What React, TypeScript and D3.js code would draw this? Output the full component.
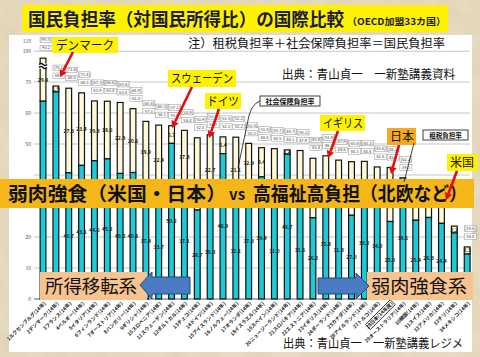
import React from 'react';
import * as d3 from 'd3';

const countries = [
  'ルクセンブルグ', 'デンマーク', 'フランス', 'ベルギー', 'イタリア', 'フィンランド', 'オーストリア', 'ハンガリー',
  'ギリシャ', 'スロベニア', 'スウェーデン', 'ポルトガル', 'チェコ', 'ドイツ', 'アイスランド', 'ノルウェー',
  'オランダ', 'イスラエル', 'スペイン', 'ニュージーランド', 'スロバキア', 'エストニア', 'イギリス', 'ポーランド',
  'カナダ', 'アイルランド', 'トルコ', '日本', 'オーストラリア', '韓国', 'スイス', 'アメリカ', 'チリ', 'メキシコ',
];
const taxRate = [
  63.8, 66.8, 40.7, 43.1, 44.6, 45.2, 40.5, 40.8, 37.4, 33.7, 50.2, 37.1, 28.7, 30.3, 46.9, 31.1,
  37.3, 39.4, 31.0, 46.7, 31.6, 26.2, 35.8, 31.8, 27.0, 36.2, 34.0, 25.0, 39.1, 25.4, 26.3, 24.4, 21.3, 14.5,
];
const socialRate = [
  29.4, 1.9, 27.3, 23.4, 19.3, 18.6, 22.9, 20.6, 19.9, 22.4, 5.7, 17.3, 23.3, 22.7, 5.4, 21.1,
  12.9, 9.4, 17.5, 1.4, 16.3, 19.2, 10.4, 13.0, 17.3, 8.2, 8.6, 17.4, 0.0, 8.0, 7.0, 8.3, 2.2, 2.3,
];
const potentialRate = [
  95.5, 70.1, 71.6, 71.4, 67.3, 66.6, 65.8, 64.9, 60.8, 60.3, 57.1, 58.9, 53.9, 52.9, 53.5, 52.2,
  52.5, 51.0, 54.7, 48.7, 50.3, 45.9, 51.4, 47.9, 45.6, 48.3, 43.6, 48.2, 42.2, 34.5, 33.9, 37.8, 23.5, 19.6,
];
const yTicks = [0, 10, 20, 30, 40, 50, 60, 70, 100, 110];

const W = 480;
const H = 357;

// regions covered by overlays (labels there are hidden in the original)
const hidden = [
  { x0: 0, x1: 480, y0: 172, y1: 214 },
  { x0: 36, x1: 194, y0: 266, y1: 304 },
  { x0: 314, x1: 480, y0: 266, y1: 304 },
];
const isHidden = (px: number, py: number) => hidden.some((r) => px >= r.x0 && px <= r.x1 && py >= r.y0 && py <= r.y1);

function Arrow({ x1, y1, x2, y2 }: { x1: number; y1: number; x2: number; y2: number }) {
  const a = Math.atan2(y2 - y1, x2 - x1);
  const L = 7, Wd = 4;
  const bx = x2 - L * Math.cos(a), by = y2 - L * Math.sin(a);
  const px = -Math.sin(a) * Wd, py = Math.cos(a) * Wd;
  return (
    <g>
      <line x1={x1} y1={y1} x2={bx} y2={by} stroke="#e01010" strokeWidth={2.6} />
      <path d={`M${x2},${y2} L${bx + px},${by + py} L${bx - px},${by - py} Z`} fill="#e01010" />
    </g>
  );
}

export default function App() {
  const x = d3.scaleBand<string>().domain(countries).range([36.6, 473.6]).paddingInner(0.55).paddingOuter(0.275);
  const y = d3.scaleLinear().domain([0, 70, 110]).range([299, 82, 41]);
  const bw = x.bandwidth();
  const cx = (c: string) => (x(c) as number) + bw / 2;
  const jp = '"Noto Sans CJK JP", "Noto Sans", sans-serif';

  return (
    <svg width={W} height={H} style={{ position: 'absolute', left: 0, top: 0 }} fontFamily={jp}>
      <defs>
        <filter id="paper" x="0" y="0" width="100%" height="100%">
          <feTurbulence type="fractalNoise" baseFrequency="0.04" numOctaves={4} seed={3} />
          <feColorMatrix type="matrix" values="0 0 0 0 0.55  0 0 0 0 0.45  0 0 0 0 0.3  0 0 0 0.5 0" />
          <feComposite in2="SourceGraphic" operator="in" />
        </filter>
      </defs>
      <rect x={0} y={0} width={W} height={H} fill="#eadfc4" />
      <rect x={0} y={0} width={W} height={H} fill="#eadfc4" filter="url(#paper)" opacity={0.6} />
      {/* white panel */}
      <rect x={9} y={35} width={463} height={317} fill="#ffffff" />

      {/* title */}
      <rect x={22} y={5} width={426} height={27} fill="#fff200" />
      <text x={28} y={26} fontSize={18} fontWeight="bold" fill="#1c1c3c" textLength={316} lengthAdjust="spacingAndGlyphs">
        国民負担率（対国民所得比）の国際比較
      </text>
      <text x={347} y={25} fontSize={9.5} fontWeight="bold" fill="#1c1c3c" textLength={99} lengthAdjust="spacingAndGlyphs">
        （OECD加盟33カ国）
      </text>

      {/* notes */}
      <text x={188} y={48} fontSize={12} fill="#111" textLength={257} lengthAdjust="spacingAndGlyphs">
        注）租税負担率＋社会保障負担率＝国民負担率
      </text>
      <text x={282} y={79} fontSize={12} fill="#111" textLength={173} lengthAdjust="spacingAndGlyphs">
        出典：青山貞一　一新塾講義資料
      </text>

      {/* gridlines */}
      {yTicks.filter((t) => t > 0 && t < 110).map((t) => (
        <line key={t} x1={34} x2={470} y1={y(t)} y2={y(t)} stroke="#b8b8b8" strokeWidth={0.8} />
      ))}
      {yTicks.filter((t) => !isHidden(28, y(t))).map((t) => (
        <text key={'l' + t} x={31} y={y(t) + 2} fontSize={5} fill="#555" textAnchor="end">
          {t}
        </text>
      ))}

      {/* bars */}
      {countries.map((c, i) => {
        const t = taxRate[i];
        const s = socialRate[i];
        const tot = t + s;
        const bx = cx(c) - bw / 2;
        const sy = (y(t) + y(tot)) / 2 + 2;
        const ty = (y(0) + y(t)) / 2 + 2;
        const topHidden = isHidden(cx(c) + 3, y(tot) - 21);
        const lowHidden = isHidden(cx(c) + 3, y(tot) - 13);
        return (
          <g key={c}>
            <rect x={bx} y={y(tot)} width={bw} height={y(t) - y(tot)} fill="#fdf9d6" stroke="#111" strokeWidth={1.2} />
            <rect x={bx} y={y(t)} width={bw} height={y(0) - y(t)} fill="#1ccbd8" stroke="#111" strokeWidth={1.2} />
            {s >= 1 && !isHidden(cx(c), sy) && (
              <text x={cx(c)} y={sy} fontSize={5} fontWeight="bold" fill="#222" textAnchor="middle">
                {s.toFixed(1)}
              </text>
            )}
            {!isHidden(cx(c), ty) && (
              <text x={cx(c)} y={ty} fontSize={5} fontWeight="bold" fill="#222" textAnchor="middle">
                {t.toFixed(1)}
              </text>
            )}
            <g fontSize={4.2} fill="#444" textAnchor="middle">
              {!topHidden && (
                <g>
                  <rect x={cx(c) - 3} y={y(tot) - 21} width={12} height={5.5} fill="#fff" stroke="#777" strokeWidth={0.4} />
                  <text x={cx(c) + 3} y={y(tot) - 16.8}>[{potentialRate[i].toFixed(1)}]</text>
                </g>
              )}
              {!lowHidden && (
                <g>
                  <rect x={cx(c) - 3} y={y(tot) - 13} width={12} height={5.5} fill="#fff" stroke="#777" strokeWidth={0.4} />
                  <text x={cx(c) + 3} y={y(tot) - 8.8}>{tot.toFixed(1)}</text>
                </g>
              )}
            </g>
          </g>
        );
      })}
      {/* axis break on first bar */}
      <g>
        <rect x={cx(countries[0]) - bw / 2 - 1} y={y(88)} width={bw + 2} height={5} fill="#fff" />
        <path
          d={`M${cx(countries[0]) - 4},${y(88) + 1} q2,-2 4,0 t4,0 M${cx(countries[0]) - 4},${y(88) + 4} q2,-2 4,0 t4,0`}
          fill="none" stroke="#111" strokeWidth={1.3}
        />
      </g>
      <line x1={34} x2={472} y1={y(0)} y2={y(0)} stroke="#333" strokeWidth={0.8} />

      {/* x labels */}
      {countries.map((c, i) => {
        const label = `${i + 1}${c}(14年${c === '日本' ? '度' : ''})`;
        return (
          <g key={'x' + c} transform={`translate(${cx(c) + 3},${y(0) + 5}) rotate(-45)`}>
            {c === '日本' && <rect x={-34} y={-5} width={35} height={7} fill="none" stroke="#111" strokeWidth={0.8} />}
            <text x={0} y={0} fontSize={5} fontWeight="bold" fill="#222" textAnchor="end">
              {label}
            </text>
          </g>
        );
      })}

      {/* banner */}
      <rect x={0} y={179} width={474} height={29} fill="#f4b619" />
      <text x={8} y={201} fontSize={19} fontWeight="bold" fill="#111" textLength={218} lengthAdjust="spacingAndGlyphs">
        弱肉強食（米国・日本）
      </text>
      <text x={229} y={200} fontSize={15} fontWeight="bold" fill="#111">vs</text>
      <text x={253} y={201} fontSize={19} fontWeight="bold" fill="#111" textLength={214} lengthAdjust="spacingAndGlyphs">
        高福祉高負担（北欧など）
      </text>

      {/* lower boxes */}
      <rect x={40} y={272} width={107} height={28} fill="#f7c38f" />
      <text x={45} y={293} fontSize={18} fill="#111" textLength={92} lengthAdjust="spacingAndGlyphs">所得移転系</text>
      <path d="M140,285 L152,272 L152,277 L190,277 L190,294 L152,294 L152,299 Z" fill="#4a7cc4" stroke="#24487e" strokeWidth={1} />
      <rect x={367} y={272} width={106} height={28} fill="#f7c38f" />
      <text x={371} y={293} fontSize={18} fill="#111" textLength={96} lengthAdjust="spacingAndGlyphs">弱肉強食系</text>
      <path d="M318,278 L356,278 L356,273 L369,286 L356,299 L356,294 L318,294 Z" fill="#4a7cc4" stroke="#24487e" strokeWidth={1} />

      {/* callouts */}
      <rect x={52} y={37} width={66} height={16} fill="#fff200" />
      <text x={56} y={50} fontSize={12} fill="#111" textLength={58} lengthAdjust="spacingAndGlyphs">デンマーク</text>
      <Arrow x1={73} y1={52} x2={60} y2={77} />

      <rect x={168} y={70} width={68} height={17} fill="#fff200" />
      <text x={171} y={83} fontSize={12} fill="#111" textLength={62} lengthAdjust="spacingAndGlyphs">スウェーデン</text>
      <Arrow x1={192} y1={87} x2={172} y2={128} />

      <rect x={205} y={93} width={36} height={16} fill="#fff200" />
      <text x={207} y={106} fontSize={12} fill="#111" textLength={32} lengthAdjust="spacingAndGlyphs">ドイツ</text>
      <Arrow x1={219} y1={109} x2={209} y2={138} />

      <rect x={260} y={96} width={60} height={10} fill="#fff" stroke="#111" strokeWidth={0.8} />
      <text x={290} y={104} fontSize={7} fontWeight="bold" fill="#111" textAnchor="middle">社会保障負担率</text>
      <path d="M260,101 Q250,104 247,125 L238,168" fill="none" stroke="#111" strokeWidth={0.8} />

      <rect x={320} y={115} width={45} height={16} fill="#fff200" />
      <text x={323} y={128} fontSize={12} fill="#111" textLength={40} lengthAdjust="spacingAndGlyphs">イギリス</text>
      <Arrow x1={338} y1={131} x2={328} y2={158} />

      <rect x={387} y={128} width={29} height={17} fill="#f7a823" />
      <text x={390} y={141} fontSize={12} fill="#111">日本</text>
      <Arrow x1={399} y1={145} x2={391} y2={174} />

      <rect x={423} y={130} width={45} height={10} fill="#fff" stroke="#111" strokeWidth={0.8} />
      <text x={445.5} y={137.5} fontSize={6.5} fontWeight="bold" fill="#111" textAnchor="middle">租税負担率</text>
      <line x1={414} y1={143} x2={404} y2={182} stroke="#111" strokeWidth={0.8} />

      <rect x={447} y={154} width={31} height={17} fill="#fff200" />
      <text x={450} y={167} fontSize={12} fill="#111">米国</text>
      <Arrow x1={457} y1={171} x2={446} y2={200} />

      <text x={283} y={348} fontSize={12} fill="#111" textLength={180} lengthAdjust="spacingAndGlyphs">
        出典：青山貞一　一新塾講義レジメ
      </text>
    </svg>
  );
}
